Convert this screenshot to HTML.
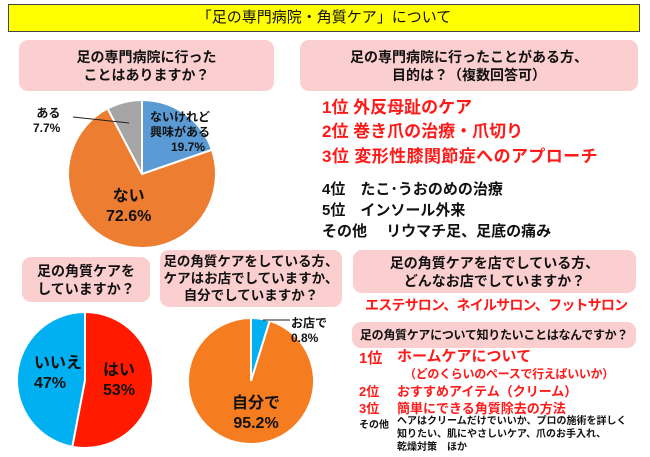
<!DOCTYPE html>
<html><head><meta charset="utf-8">
<style>
body{margin:0;width:650px;height:457px;background:#fff;position:relative;overflow:hidden;font-family:"Liberation Sans","Noto Sans CJK JP",sans-serif;font-weight:bold;color:#111}
.a{position:absolute;white-space:nowrap}
.box{position:absolute;background:#fbcfcf;border-radius:9px;text-align:center;font-size:14px;line-height:18px;display:flex;flex-direction:column;justify-content:center;white-space:nowrap}
.red{color:#ff1a1a}
svg{position:absolute;left:0;top:0}
</style></head><body>
<div class="a" style="left:8px;top:4px;width:630px;height:26px;background:#ffff00;border:1px solid #444;text-align:center;font-size:15px;line-height:26px;font-weight:normal">「足の専門病院・角質ケア」について</div>

<div class="box" style="left:19px;top:40px;width:255px;height:51px">足の専門病院に行った<br>ことはありますか？</div>
<div class="box" style="left:300px;top:40px;width:338px;height:51px">足の専門病院に行ったことがある方、<br>目的は？（複数回答可）</div>

<div class="a red" style="left:322px;top:97px;font-size:17px;line-height:22px">1位 外反母趾のケア</div>
<div class="a red" style="left:322px;top:121px;font-size:17px;line-height:22px">2位 巻き爪の治療・爪切り</div>
<div class="a red" style="left:322px;top:146px;font-size:17px;line-height:22px;letter-spacing:0.4px">3位 変形性膝関節症へのアプローチ</div>
<div class="a" style="left:322px;top:180px;font-size:15px;line-height:20px">4位　たこ･うおのめの治療</div>
<div class="a" style="left:322px;top:201px;font-size:15px;line-height:20px">5位　インソール外来</div>
<div class="a" style="left:322px;top:222px;font-size:15px;line-height:20px">その他　 リウマチ足、足底の痛み</div>

<div class="box" style="left:22px;top:257px;width:128px;height:45px">足の角質ケアを<br>していますか？</div>
<div class="box" style="left:160px;top:250px;width:182px;height:57px;line-height:17px;font-size:13.5px">足の角質ケアをしている方、<br>ケアはお店でしていますか、<br>自分でしていますか？</div>
<div class="box" style="left:353px;top:250px;width:283px;height:43px">足の角質ケアを店でしている方、<br>どんなお店でしていますか？</div>
<div class="a red" style="left:365px;top:295px;font-size:14px;line-height:20px;letter-spacing:-0.8px">エステサロン、ネイルサロン、フットサロン</div>
<div class="box" style="left:352px;top:322px;width:284px;height:26px;font-size:12px;letter-spacing:-0.3px">足の角質ケアについて知りたいことはなんですか？</div>

<div class="a red" style="left:359px;top:349px;font-size:15px;line-height:20px">1位</div>
<div class="a red" style="left:397px;top:347px;font-size:15px;line-height:20px">ホームケアについて</div>
<div class="a red" style="left:404px;top:366px;font-size:12px;line-height:16px;letter-spacing:-0.3px">（どのくらいのペースで行えばいいか）</div>
<div class="a red" style="left:359px;top:383px;font-size:13px;line-height:18px"><span style="display:inline-block;width:38px">2位</span>おすすめアイテム（クリーム）</div>
<div class="a red" style="left:359px;top:400px;font-size:13px;line-height:18px"><span style="display:inline-block;width:38px">3位</span>簡単にできる角質除去の方法</div>
<div class="a" style="left:359px;top:419px;font-size:10px;line-height:13px">その他</div>
<div class="a" style="left:397px;top:415px;font-size:10px;line-height:13px">ヘアはクリームだけでいいか、プロの施術を詳しく<br>知りたい、肌にやさしいケア、爪のお手入れ、<br>乾燥対策　ほか</div>

<svg id="chart" width="650" height="457"></svg>

<div class="a" style="left:150px;top:110px;font-size:12px;line-height:15px;text-align:center">ないけれど<br>興味がある<br><span style="margin-left:16px">19.7%</span></div>
<div class="a" style="left:106px;top:187px;font-size:16px;line-height:20px;text-align:center">ない<br>72.6%</div>
<div class="a" style="left:33px;top:106px;font-size:12px;line-height:15px;text-align:right">ある<br>7.7%</div>
<div class="a" style="left:103px;top:361px;font-size:16px;line-height:20px">はい<br>53%</div>
<div class="a" style="left:34px;top:354px;font-size:16px;line-height:20px">いいえ<br>47%</div>
<div class="a" style="left:232px;top:394px;font-size:16px;line-height:20px;text-align:center">自分で<br>95.2%</div>
<div class="a" style="left:291px;top:316px;font-size:12px;line-height:15px">お店で<br>0.8%</div>

<script>
const pie1Cats=["ないけれど興味がある","ない","ある"];
const pie1Vals=[19.7,72.6,7.7];
const pie1Colors=["#5b9bd5","#ed7d31","#a5a5a5"];
const pie2Cats=["はい","いいえ"];
const pie2Vals=[53,47];
const pie2Colors=["#ff1a00","#00b0f0"];
const pie3Cats=["お店で","自分で"];
const pie3Vals=[4.8,95.2];
const pie3Colors=["#00b0f0","#f57c1f"];
const svg=document.getElementById('chart');
const NS="http://www.w3.org/2000/svg";
function pie(cx,cy,r,vals,colors,name){
  const tot=vals.reduce((a,b)=>a+b,0);let a0=-Math.PI/2;
  vals.forEach((v,i)=>{
    const a1=a0+v/tot*2*Math.PI;
    const x0=cx+r*Math.cos(a0),y0=cy+r*Math.sin(a0),x1=cx+r*Math.cos(a1),y1=cy+r*Math.sin(a1);
    const p=document.createElementNS(NS,'path');
    p.setAttribute('d',`M${cx},${cy}L${x0},${y0}A${r},${r} 0 ${a1-a0>Math.PI?1:0} 1 ${x1},${y1}Z`);
    p.setAttribute('fill',colors[i]);p.setAttribute('stroke','#fff');p.setAttribute('stroke-width','2');
    
    
    svg.appendChild(p);a0=a1;
  });
}
pie(142,174,74,pie1Vals,pie1Colors,'pie-hospital');
pie(85,380,68,pie2Vals,pie2Colors,'pie-care');
pie(251,381,63,pie3Vals,pie3Colors,'pie-where');
function line(x1,y1,x2,y2,name){const l=document.createElementNS(NS,'line');
  l.setAttribute('x1',x1);l.setAttribute('y1',y1);l.setAttribute('x2',x2);l.setAttribute('y2',y2);
  l.setAttribute('stroke','#222');l.setAttribute('stroke-width','1');
  
  
  svg.appendChild(l);}
line(73,117,129,123,'leader-aru');
line(263,320,290,320,'leader-shop');
</script>
</body></html>
